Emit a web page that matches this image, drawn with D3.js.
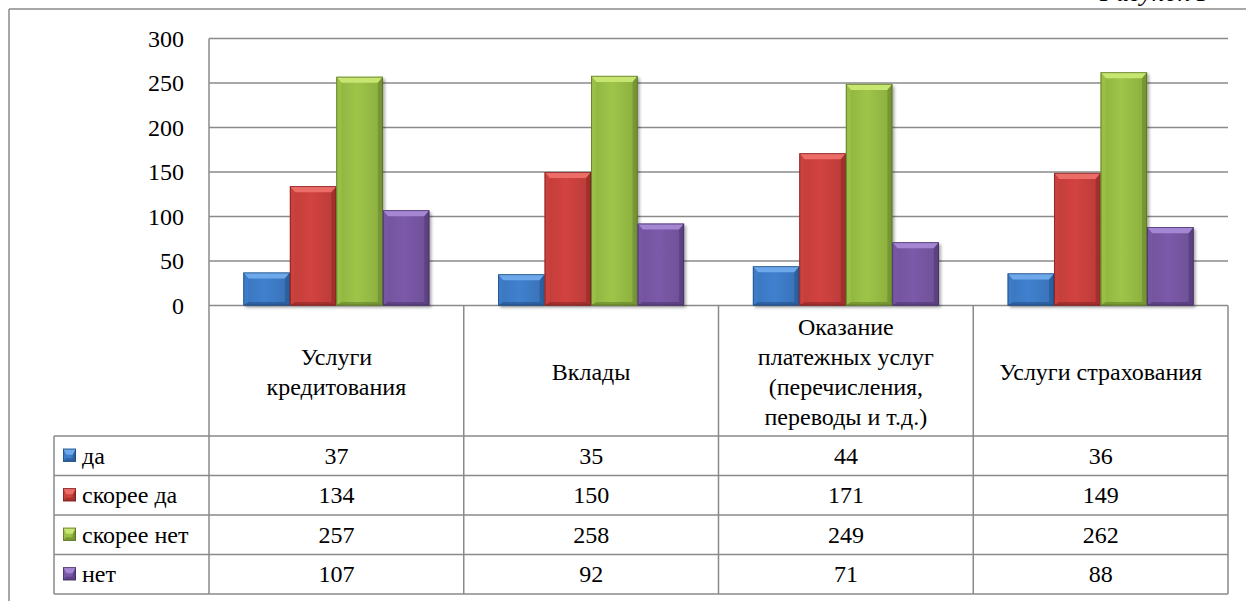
<!DOCTYPE html>
<html>
<head>
<meta charset="utf-8">
<script src="https://cdn.jsdelivr.net/npm/d3@7"></script>
</head>
<body style="margin:0">
<svg id="chart" width="1246" height="601"></svg>
<script>
// Categories (table columns)
const categories = [
  ["Услуги", "кредитования"],
  ["Вклады"],
  ["Оказание", "платежных услуг", "(перечисления,", "переводы и т.д.)"],
  ["Услуги страхования"]
];
// Series names (legend / table rows)
const seriesNames = ["да", "скорее да", "скорее нет", "нет"];
// Values per series, one per category
const valuesDa       = [37, 35, 44, 36];
const valuesSkDa     = [134, 150, 171, 149];
const valuesSkNet    = [257, 258, 249, 262];
const valuesNet      = [107, 92, 71, 88];
const seriesValues = [valuesDa, valuesSkDa, valuesSkNet, valuesNet];
// Y axis ticks
const yTicks = [0, 50, 100, 150, 200, 250, 300];

const FONT = "Times New Roman, Tinos, Liberation Serif, serif";
const FS = 24;
const BASE = FS * 0.34; // baseline offset that centres a line on a y position

// Face / bevel colours for each series
const palette = [
  { face: "#3d7bc6", light: "#6da9ea", dark: "#23508a", edge: "#1d426f" },
  { face: "#c9403d", light: "#ec6c68", dark: "#8c2624", edge: "#6e1c1b" },
  { face: "#97bd45", light: "#c6e571", dark: "#65812a", edge: "#4d6320" },
  { face: "#7756a3", light: "#a586d3", dark: "#4f3771", edge: "#3c2958" }
];

const svg = d3.select("#chart");
const W = 1246, H = 601;

const plotLeft = 209, plotRight = 1228;
const y = d3.scaleLinear().domain([0, 300]).range([305.5, 38.5]);
const x0 = d3.scaleBand().domain(d3.range(categories.length)).range([plotLeft, plotRight]).padding(0);
const x1 = d3.scaleBand().domain(d3.range(seriesNames.length)).range([0, x0.bandwidth()])
  .paddingInner(0).paddingOuter(0.74);

const gridColor = "#8a8a8a";

// all labels go straight onto the svg root
function label(x, yy, s, anchor) {
  return svg.append("text").attr("x", x).attr("y", yy)
    .attr("font-size", FS).attr("font-family", FONT)
    .attr("text-anchor", anchor || "start").text(s);
}

// drop shadow for bars
const defs = svg.append("defs");
const f = defs.append("filter").attr("id", "shadow").attr("x", "-20%").attr("y", "-20%")
  .attr("width", "150%").attr("height", "150%");
f.append("feDropShadow").attr("dx", 2).attr("dy", 2).attr("stdDeviation", 1.8)
  .attr("flood-color", "#000").attr("flood-opacity", 0.35);

// horizontal face gradient per series
palette.forEach((c, i) => {
  const g = defs.append("linearGradient").attr("id", "face" + i)
    .attr("x1", 0).attr("x2", 1).attr("y1", 0).attr("y2", 0);
  g.append("stop").attr("offset", "0%").attr("stop-color", d3.color(c.face).darker(0.15));
  g.append("stop").attr("offset", "45%").attr("stop-color", d3.color(c.face).brighter(0.12));
  g.append("stop").attr("offset", "100%").attr("stop-color", d3.color(c.face).darker(0.25));
});

// Outer frame
svg.append("line").attr("x1", 9).attr("x2", 9).attr("y1", 9).attr("y2", H)
  .attr("stroke", gridColor).attr("stroke-width", 1.5);
svg.append("line").attr("x1", 9).attr("x2", W).attr("y1", 9).attr("y2", 9)
  .attr("stroke", gridColor).attr("stroke-width", 1.5);

// Gridlines
svg.append("g").selectAll("line").data(yTicks).join("line")
  .attr("x1", plotLeft).attr("x2", plotRight)
  .attr("y1", d => y(d)).attr("y2", d => y(d))
  .attr("stroke", gridColor).attr("stroke-width", 1.5);

// Bevelled bar
function bevelBar(g, x, yTop, w, h, c, i, withShadow) {
  const bt = Math.min(6, h / 2), bs = Math.min(5, w / 4);
  const grp = g.append("g");
  if (withShadow) grp.attr("filter", "url(#shadow)");
  grp.append("rect").attr("x", x).attr("y", yTop).attr("width", w).attr("height", h)
    .attr("fill", `url(#face${i})`);
  const inner = g.append("g");
  inner.append("polygon").attr("points",
    [[x, yTop], [x + w, yTop], [x + w - bs, yTop + bt], [x + bs, yTop + bt]].join(" "))
    .attr("fill", c.light);
  inner.append("polygon").attr("points",
    [[x, yTop], [x + bs, yTop + bt], [x + bs, yTop + h - bt * 0.6], [x, yTop + h]].join(" "))
    .attr("fill", d3.color(c.face).brighter(0.1)).attr("opacity", 0.7);
  inner.append("polygon").attr("points",
    [[x + w, yTop], [x + w - bs, yTop + bt], [x + w - bs, yTop + h - bt * 0.6], [x + w, yTop + h]].join(" "))
    .attr("fill", c.dark).attr("opacity", 0.55);
  inner.append("polygon").attr("points",
    [[x, yTop + h], [x + bs, yTop + h - bt * 0.6], [x + w - bs, yTop + h - bt * 0.6], [x + w, yTop + h]].join(" "))
    .attr("fill", c.dark).attr("opacity", 0.6);
  inner.append("rect").attr("x", x + 0.4).attr("y", yTop + 0.4).attr("width", w - 0.8).attr("height", h - 0.8)
    .attr("fill", "none").attr("stroke", c.edge).attr("stroke-width", 0.8).attr("opacity", 0.8);
}

// Bars
const barsG = svg.append("g");
categories.forEach((cat, ci) => {
  seriesValues.forEach((vals, si) => {
    const v = vals[ci];
    const bx = x0(ci) + x1(si);
    bevelBar(barsG, bx, y(v), x1.bandwidth(), y(0) - y(v), palette[si], si, true);
  });
});

// Data table
const headerTop = 305.5, headerBottom = 436, rowH = 39.5;
const legendLeft = 54;
const tableBottom = headerBottom + rowH * seriesNames.length;
const tG = svg.append("g");

tG.append("line").attr("x1", plotLeft).attr("x2", plotLeft).attr("y1", y(300)).attr("y2", tableBottom)
  .attr("stroke", gridColor).attr("stroke-width", 1.5);
d3.range(1, categories.length + 1).forEach(ci => {
  const xx = ci < categories.length ? x0(ci) : plotRight;
  tG.append("line").attr("x1", xx).attr("x2", xx).attr("y1", headerTop).attr("y2", tableBottom)
    .attr("stroke", gridColor).attr("stroke-width", 1.5);
});
tG.append("line").attr("x1", legendLeft).attr("x2", legendLeft).attr("y1", headerBottom).attr("y2", tableBottom)
  .attr("stroke", gridColor).attr("stroke-width", 1.5);
d3.range(seriesNames.length + 1).forEach(r => {
  const yy = headerBottom + r * rowH;
  tG.append("line").attr("x1", legendLeft).attr("x2", plotRight).attr("y1", yy).attr("y2", yy)
    .attr("stroke", gridColor).attr("stroke-width", 1.5);
});

// Legend keys
seriesNames.forEach((name, si) => {
  const cy = headerBottom + si * rowH + rowH / 2;
  bevelBar(tG, 63, cy - 7, 13, 13, palette[si], si, false);
});

// Caption running off the top edge
label(1100, 1, "Рисунок 5").attr("font-size", 26).attr("font-style", "italic");

// Y axis labels
yTicks.forEach(t => label(plotLeft - 25, y(t) + BASE, t, "end"));

// Category header text, one line each
const lineH = 29.8;
categories.forEach((lines, ci) => {
  const cx = x0(ci) + x0.bandwidth() / 2;
  const cy = (headerTop + headerBottom) / 2 + 1;
  lines.forEach((ln, k) => {
    label(cx, cy + (k - (lines.length - 1) / 2) * lineH + BASE, ln, "middle");
  });
});

// Rows: series name and values
seriesNames.forEach((name, si) => {
  const cy = headerBottom + si * rowH + rowH / 2;
  label(82, cy + BASE, name);
  seriesValues[si].forEach((v, ci) => {
    label(x0(ci) + x0.bandwidth() / 2, cy + BASE, v, "middle");
  });
});
</script>
</body>
</html>
